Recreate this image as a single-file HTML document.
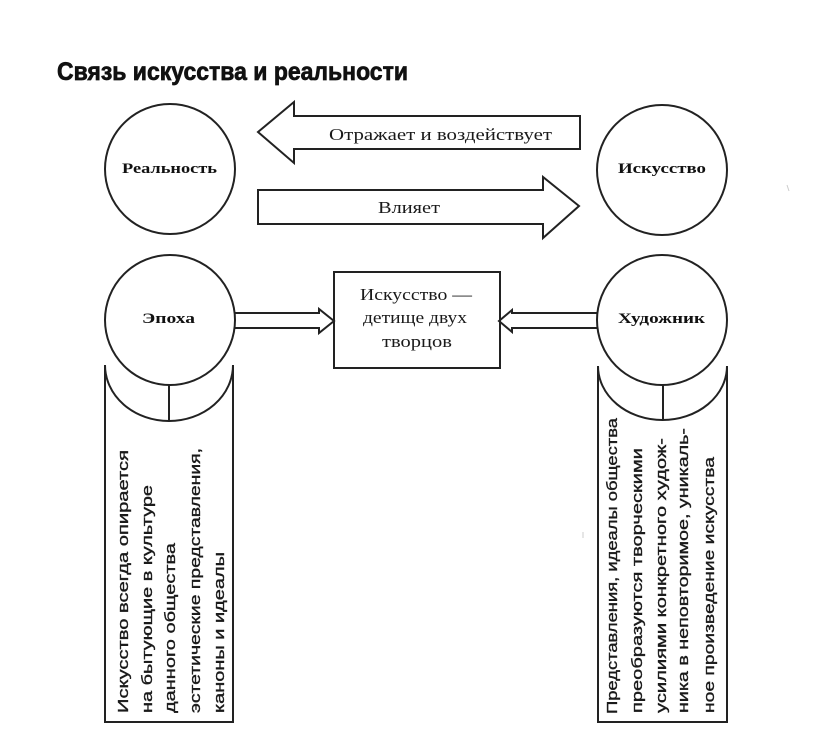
<!DOCTYPE html>
<html>
<head>
<meta charset="utf-8">
<style>
  html,body{margin:0;padding:0;background:#fff;}
  svg{display:block;}
  .t{font-family:"Liberation Serif","Noto Serif CJK SC",serif;fill:#1a1a1a;}
  .b{font-family:"Liberation Serif","Noto Serif CJK SC",serif;font-weight:bold;fill:#111;}
  .v{font-family:"Liberation Sans","Noto Sans CJK SC",sans-serif;fill:#1a1a1a;font-size:15px;stroke:#1a1a1a;stroke-width:0.35;}
</style>
</head>
<body>
<svg width="816" height="733" viewBox="0 0 816 733" xmlns="http://www.w3.org/2000/svg">
  <rect width="816" height="733" fill="#fff"/>

  <!-- Title -->
  <text x="57" y="80" font-family="'Liberation Sans Narrow','Liberation Sans',sans-serif" font-weight="bold" font-size="25" fill="#111" stroke="#111" stroke-width="0.7" textLength="351" lengthAdjust="spacingAndGlyphs">Связь искусства и реальности</text>

  <g fill="none" stroke="#222" stroke-width="2">
    <!-- circles -->
    <circle cx="170" cy="169" r="65"/>
    <circle cx="662" cy="170" r="65"/>
    <circle cx="170" cy="320" r="65"/>
    <circle cx="662" cy="320" r="65"/>

    <!-- big left arrow -->
    <polygon points="580,116 294,116 294,102 258,132 294,163 294,149 580,149"/>
    <!-- big right arrow -->
    <polygon points="258,190 543,190 543,177 579,206 543,238 543,224 258,224"/>

    <!-- center box -->
    <rect x="334" y="272" width="166" height="96"/>

    <!-- small arrow Epoch -> box -->
    <polyline points="235,313 319,313 319,309 334,321 319,333 319,328 235,328"/>
    <!-- small arrow Artist -> box -->
    <polyline points="597,313 512,313 512,310 499,321 512,332 512,328 597,328"/>

    <!-- left bracket + box -->
    <path d="M105,365 L105,722 L233,722 L233,365"/>
    <path d="M105,365 A64,56 0 0 0 233,365"/>
    <line x1="169" y1="385" x2="169" y2="421"/>

    <!-- right bracket + box -->
    <path d="M598,366 L598,722 L727,722 L727,366"/>
    <path d="M598,366 A64.5,54 0 0 0 727,366"/>
    <line x1="663" y1="385" x2="663" y2="420"/>
  </g>

  <!-- circle labels -->
  <text class="b" x="122" y="173" font-size="15" textLength="95" lengthAdjust="spacingAndGlyphs">Реальность</text>
  <text class="b" x="618" y="173" font-size="15" textLength="88" lengthAdjust="spacingAndGlyphs">Искусство</text>
  <text class="b" x="142" y="323" font-size="15" textLength="53" lengthAdjust="spacingAndGlyphs">Эпоха</text>
  <text class="b" x="618" y="323" font-size="15" textLength="87" lengthAdjust="spacingAndGlyphs">Художник</text>

  <!-- arrow labels -->
  <text class="t" x="329" y="140" font-size="17" textLength="223" lengthAdjust="spacingAndGlyphs">Отражает и воздействует</text>
  <text class="t" x="378" y="213" font-size="17" textLength="62" lengthAdjust="spacingAndGlyphs">Влияет</text>

  <!-- center box text -->
  <text class="t" x="360" y="300" font-size="17" textLength="112" lengthAdjust="spacingAndGlyphs">Искусство —</text>
  <text class="t" x="363" y="323" font-size="17" textLength="104" lengthAdjust="spacingAndGlyphs">детище двух</text>
  <text class="t" x="382" y="347" font-size="17" textLength="70" lengthAdjust="spacingAndGlyphs">творцов</text>

  <!-- left vertical text -->
  <text class="v" transform="translate(128,713) rotate(-90)" textLength="263" lengthAdjust="spacingAndGlyphs">Искусство всегда опирается</text>
  <text class="v" transform="translate(152,713) rotate(-90)" textLength="228" lengthAdjust="spacingAndGlyphs">на бытующие в культуре</text>
  <text class="v" transform="translate(175,713) rotate(-90)" textLength="170" lengthAdjust="spacingAndGlyphs">данного общества</text>
  <text class="v" transform="translate(200,713) rotate(-90)" textLength="265" lengthAdjust="spacingAndGlyphs">эстетические представления,</text>
  <text class="v" transform="translate(224,713) rotate(-90)" textLength="161" lengthAdjust="spacingAndGlyphs">каноны и идеалы</text>

  <!-- right vertical text -->
  <text class="v" transform="translate(617,714) rotate(-90)" textLength="296" lengthAdjust="spacingAndGlyphs">Представления, идеалы общества</text>
  <text class="v" transform="translate(642,713) rotate(-90)" textLength="265" lengthAdjust="spacingAndGlyphs">преобразуются творческими</text>
  <text class="v" transform="translate(666,713) rotate(-90)" textLength="275" lengthAdjust="spacingAndGlyphs">усилиями конкретного худож-</text>
  <text class="v" transform="translate(688,713) rotate(-90)" textLength="285" lengthAdjust="spacingAndGlyphs">ника в неповторимое, уникаль-</text>
  <text class="v" transform="translate(714,713) rotate(-90)" textLength="256" lengthAdjust="spacingAndGlyphs">ное произведение искусства</text>

  <!-- faint specks -->
  <line x1="787" y1="185" x2="789" y2="191" stroke="#ccc" stroke-width="1"/>
  <line x1="583" y1="532" x2="583" y2="538" stroke="#ccc" stroke-width="1"/>
</svg>
</body>
</html>
